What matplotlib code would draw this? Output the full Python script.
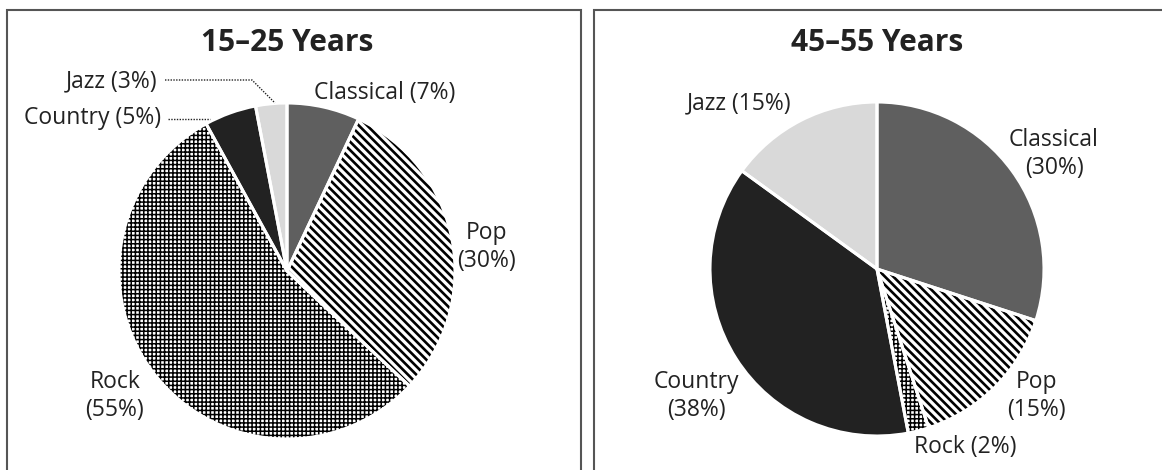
import matplotlib
matplotlib.use("Agg")
import matplotlib.pyplot as plt
from matplotlib.patches import Rectangle

plt.rcParams['font.family'] = ['Open Sans', 'DejaVu Sans']

genres = ["Classical", "Pop", "Rock", "Country", "Jazz"]
young_share = [7, 30, 55, 5, 3]
older_share = [30, 15, 2, 38, 15]
titles = ["15\u201325 Years", "45\u201355 Years"]

fills = ["#5f5f5f", "white", "white", "#222222", "#d9d9d9"]
hatches = [None, "\\\\\\\\", "++++", None, None]
hatch_widths = [None, 1.9, 1.1, None, None]

W, H = 1162, 470
fig = plt.figure(figsize=(W / 100, H / 100), dpi=100)
ax = fig.add_axes([0, 0, 1, 1])

def Y(py):
    return H - py

plt.rcParams['hatch.linewidth'] = 1.6
plt.rcParams['hatch.color'] = 'black'

def draw_pie(values, cx, cy, r):
    wedges, _ = ax.pie(values, colors=fills, startangle=90, counterclock=False,
                       center=(cx, Y(cy)), radius=r, frame=True,
                       wedgeprops=dict(edgecolor="black", linewidth=0))
    for w, h, hw in zip(wedges, hatches, hatch_widths):
        if h:
            w.set_hatch(h)
            if hasattr(w, "set_hatch_linewidth"):
                w.set_hatch_linewidth(hw)
    # white separators drawn on top
    ax.pie(values, colors=["none"] * len(values), startangle=90,
           counterclock=False, center=(cx, Y(cy)), radius=r, frame=True,
           wedgeprops=dict(edgecolor="white", linewidth=2.2, fill=False))
    return wedges

draw_pie(young_share, 287, 271, 168)
draw_pie(older_share, 877, 269, 167)

ax.set_xlim(0, W)
ax.set_ylim(0, H)
ax.set_aspect('auto')
ax.axis('off')

# panel boxes
for x0, x1 in [(7, 581), (594, 1175)]:
    ax.add_patch(Rectangle((x0, Y(480)), x1 - x0, 480 - 10, fill=False,
                           edgecolor="#555555", linewidth=1.5, clip_on=False))

ax.text(287, Y(43), titles[0], ha="center", va="center", fontsize=21.5,
        fontweight="bold", color="#222222")
ax.text(877, Y(43), titles[1], ha="center", va="center", fontsize=21.5,
        fontweight="bold", color="#222222")

tk = dict(fontsize=16.5, color="#222222", va="center", linespacing=1.2)

def lab(name, val):
    return f"{name} ({val}%)"

def lab2(name, val):
    return f"{name}\n({val}%)"

# left labels
ax.text(385, Y(93), lab(genres[0], young_share[0]), ha="center", **tk)
ax.text(487, Y(247), lab2(genres[1], young_share[1]), ha="center", **tk)
ax.text(115, Y(396), lab2(genres[2], young_share[2]), ha="center", **tk)
ax.text(161, Y(118), lab(genres[3], young_share[3]), ha="right", **tk)
ax.text(157, Y(81), lab(genres[4], young_share[4]), ha="right", **tk)
ax.plot([165, 252, 275], [Y(80), Y(80), Y(103)], color="#222222", lw=1, ls=(0, (1, 1)))
ax.plot([168, 210], [Y(119), Y(119)], color="#222222", lw=1, ls=(0, (1, 1)))

# right labels
ax.text(1054, Y(154), lab2(genres[0], older_share[0]), ha="center", **tk)
ax.text(1036, Y(396), lab2(genres[1], older_share[1]), ha="center", **tk)
ax.text(965, Y(447), lab(genres[2], older_share[2]), ha="center", **tk)
ax.text(696, Y(396), lab2(genres[3], older_share[3]), ha="center", **tk)
ax.text(739, Y(103), lab(genres[4], older_share[4]), ha="center", **tk)

fig.savefig("out.png", dpi=100)
